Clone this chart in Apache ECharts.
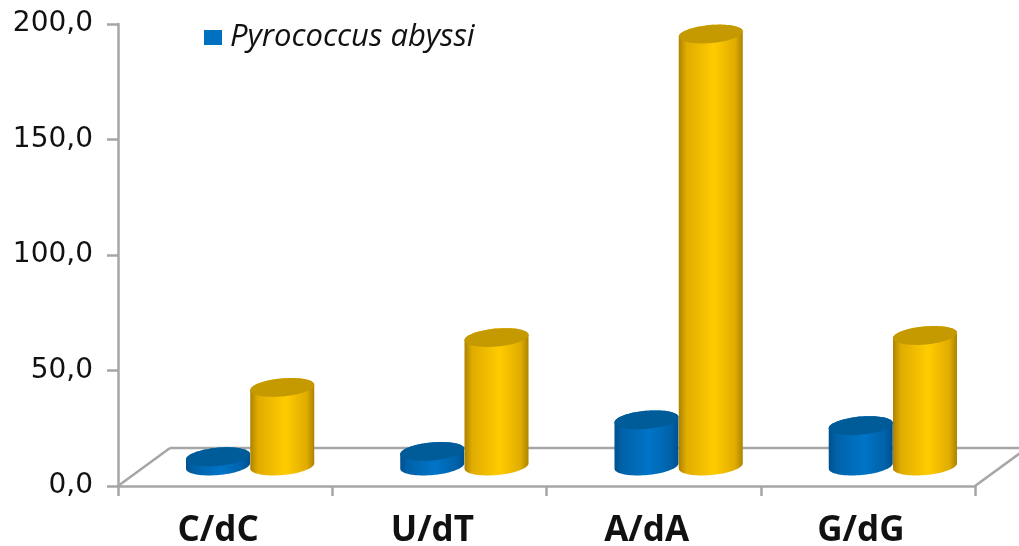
<!DOCTYPE html>
<html><head><meta charset="utf-8">
<style>html,body{margin:0;padding:0;background:#fff}#c{width:1019px;height:546px}</style>
<script src="https://cdn.jsdelivr.net/npm/echarts@6/dist/echarts.min.js"></script>
</head><body><div id="c"></div>
<script>
const categories = ['C/dC','U/dT','A/dA','G/dG'];
const blueValues = [4, 6.3, 20, 17.5];
const yellowValues = [34, 55.6, 187, 56.5];
const valueTicks = [0,50,100,150,200];
const blueName = 'Pyrococcus abyssi';
const yellowName = 'Series 2';

const DEPTH_X = 52, DEPTH_Y = 38, AXIS = '#a6a6a6';
const palettes = {
  blue:{body:()=>new echarts.graphic.LinearGradient(0,0,1,0,[
    {offset:0,color:'#00508f'},{offset:0.12,color:'#0062a8'},{offset:0.55,color:'#0074c8'},
    {offset:0.88,color:'#0062a8'},{offset:1,color:'#00508f'}]),top:'#005b99'},
  yellow:{body:()=>new echarts.graphic.LinearGradient(0,0,1,0,[
    {offset:0,color:'#ad8200'},{offset:0.12,color:'#e0ac00'},{offset:0.55,color:'#ffcc00'},
    {offset:0.88,color:'#e0ac00'},{offset:1,color:'#ad8200'}]),top:'#c49a00'}
};
function cyl(side,pal){
  return function(params,api){
    const i=api.value(0), top=api.coord([i,api.value(1)]), base=api.coord([i,0]);
    const band=api.size([1,0])[0];
    const rx=band*0.15, ry=9, rot=-0.09;
    const cx=base[0]+DEPTH_X/2-1+side*rx, by=base[1]-DEPTH_Y/2-1, ty=top[1]-DEPTH_Y/2-1;
    const pt=(cy,t)=>{
      const px=rx*Math.cos(t), py=ry*Math.sin(t);
      return [cx+px*Math.cos(rot)-py*Math.sin(rot), cy+px*Math.sin(rot)+py*Math.cos(rot)];
    };
    const pts=[];
    const N=40;
    for(let k=0;k<=N;k++) pts.push(pt(ty,Math.PI+Math.PI*k/N));
    for(let k=0;k<=N;k++) pts.push(pt(by,Math.PI*k/N));
    const cap=[];
    for(let k=0;k<2*N;k++) cap.push(pt(ty,Math.PI*k/N));
    return {type:'group',children:[
      {type:'polygon',shape:{points:pts},style:{fill:pal.body()}},
      {type:'polygon',shape:{points:cap},style:{fill:pal.top}}
    ]};
  };
}
const floorLines=(params,api)=>{
  const c=params.coordSys, x0=c.x, x1=c.x+c.width, y=c.y+c.height;
  const st={stroke:AXIS,lineWidth:2.5};
  const ln=a=>({type:'line',shape:{x1:a,y1:y,x2:a+DEPTH_X,y2:y-DEPTH_Y},style:st});
  return {type:'group',children:[
    ln(x0),ln(x1),
    {type:'line',shape:{x1:x0+DEPTH_X,y1:y-DEPTH_Y,x2:x1+DEPTH_X,y2:y-DEPTH_Y},style:st}
  ]};
};
const chart=echarts.init(document.getElementById('c'),null,{renderer:'canvas'});
chart.setOption({
  animation:false,
  backgroundColor:'#fff',
  grid:{left:118,right:44,top:24,bottom:60,containLabel:false,outerBoundsMode:'none'},
  legend:{data:[{name:blueName,icon:'rect'}],left:199,top:17,itemWidth:18,itemHeight:15,
    textStyle:{fontFamily:'Open Sans',fontStyle:'italic',fontSize:31,color:'#111',padding:[0,0,0,3]}},
  xAxis:{type:'category',data:categories,
    axisLine:{lineStyle:{color:AXIS,width:2.5}},
    axisTick:{show:true,length:10,lineStyle:{color:AXIS,width:2.5}},
    axisLabel:{fontFamily:'Open Sans',fontWeight:'bold',fontSize:35,color:'#111',margin:28,padding:[0,14,0,0]}},
  yAxis:{type:'value',min:0,max:200,interval:50,
    axisLine:{show:true,lineStyle:{color:AXIS,width:2.5}},
    axisTick:{show:true,length:11,lineStyle:{color:AXIS,width:2.5}},
    splitLine:{show:false},
    axisLabel:{fontFamily:'DejaVu Sans',fontSize:28,color:'#111',margin:25,
      formatter:v=>valueTicks.includes(v)?v.toFixed(1).replace('.',','):''}},
  series:[
    {type:'custom',name:'floor',silent:true,z:1,renderItem:floorLines,data:[[0]],clip:false,encode:{x:0,y:0}},
    {type:'custom',name:blueName,z:2,clip:false,itemStyle:{color:'#0070c0'},renderItem:cyl(-1,palettes.blue),
     data:blueValues.map((v,i)=>[i,v]),encode:{x:0,y:1}},
    {type:'custom',name:yellowName,z:3,clip:false,itemStyle:{color:'#ffc000'},renderItem:cyl(1,palettes.yellow),
     data:yellowValues.map((v,i)=>[i,v]),encode:{x:0,y:1}}
  ]
});
</script></body></html>
